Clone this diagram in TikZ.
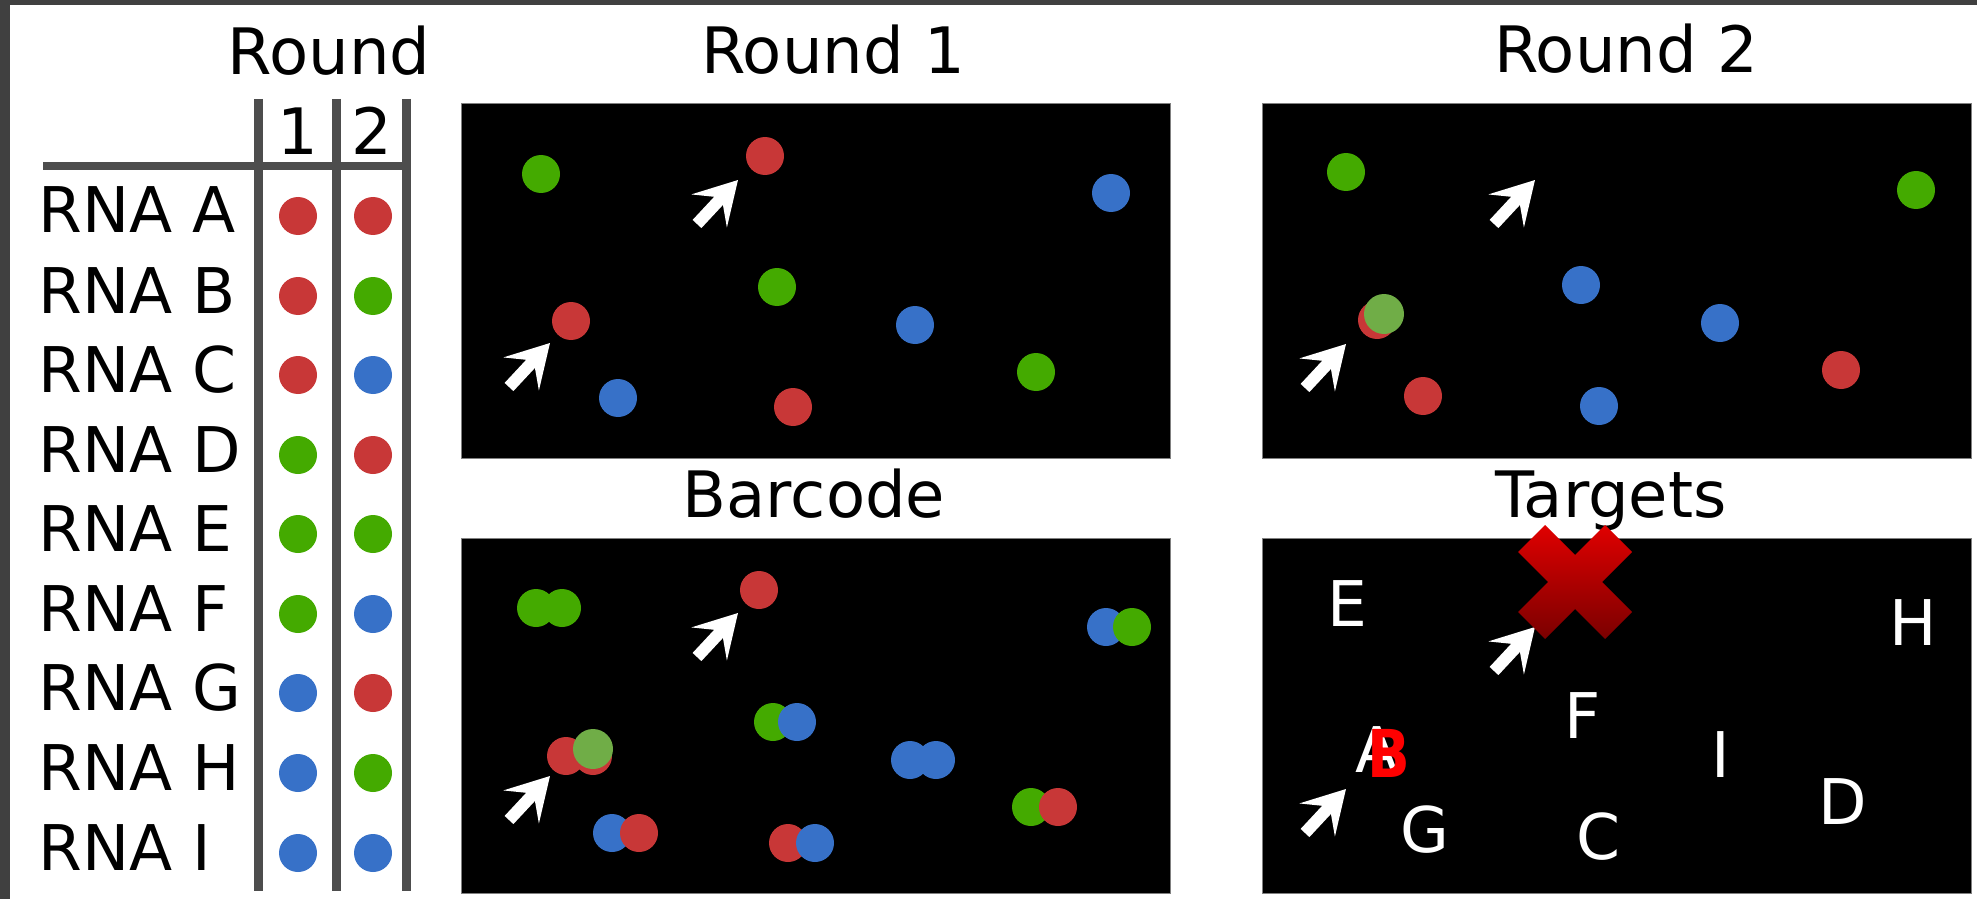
\documentclass[tikz,border=0pt]{standalone}
\usepackage{fontspec}
\usepackage{graphicx}
\setmainfont{DejaVu Sans}
\usetikzlibrary{arrows.meta}
\definecolor{cred}{HTML}{C83737}
\definecolor{cgreen}{HTML}{44AA00}
\definecolor{cblue}{HTML}{3771C8}
\definecolor{clgreen}{HTML}{70AD47}
\definecolor{tgray}{HTML}{4D4D4D}
\definecolor{cframe}{HTML}{404040}
\definecolor{xtop}{HTML}{E00000}
\definecolor{xbot}{HTML}{7A0000}
\definecolor{bred}{HTML}{FF0000}
\begin{document}
\begin{tikzpicture}[x=0.5pt,y=-0.5pt,
  spot/.style={circle,inner sep=0pt,minimum size=19pt,draw=none},
  bigspot/.style={circle,inner sep=0pt,minimum size=20pt,draw=none,fill=clgreen},
  title/.style={inner sep=0pt,anchor=base,font=\fontsize{32pt}{38pt}\selectfont},
  lbl/.style={inner sep=0pt,anchor=base west,font=\fontsize{31.5pt}{38pt}\selectfont},
  letter/.style={inner sep=0pt,anchor=base,text=white,font=\fontsize{31.5pt}{38pt}\selectfont},
  tline/.style={draw=tgray,line width=4.5pt},
  pointer/.style={draw=white,line width=6pt,-{Stealth[length=21pt,width=24pt,inset=9pt]}},
  panel/.style={fill=black,draw=gray,line width=0.5pt}]
\fill[cframe] (0,0) rectangle (1977,899);
\fill[white] (10,5) rectangle (1977,899);
\useasboundingbox (0,0) rectangle (1977,899);

% ---------- table ----------
\node[title] (thead) at (329,75) {Round};
\node[title] (th1) at (298,155) {1};
\node[title] (th2) at (372,155) {2};
\draw[tline, line width=4pt] (43,166) -- (410,166);
\draw[tline] (258.5,99) -- (258.5,891);
\draw[tline] (336,99) -- (336,891);
\draw[tline] (406,99) -- (406,891);

\foreach \n/\y/\a/\b in {A/216/cred/cred, B/296/cred/cgreen, C/375/cred/cblue,
  D/455/cgreen/cred, E/534/cgreen/cgreen, F/614/cgreen/cblue,
  G/693/cblue/cred, H/773/cblue/cgreen, I/853/cblue/cblue}{
  \node[lbl] (rna\n) at (38,\y+17) {RNA \n};
  \node[spot,fill=\a] (t1\n) at (298,\y) {};
  \node[spot,fill=\b] (t2\n) at (373,\y) {};
}

% ---------- Round 1 ----------
\node[title] (tr1) at (833,74) {Round 1};
\draw[panel] (461,104) rectangle (1170,458);
\node[spot,fill=cgreen] (r1a) at (541,174) {};
\node[spot,fill=cred]   (r1b) at (765,156) {};
\node[spot,fill=cblue]  (r1c) at (1111,193) {};
\node[spot,fill=cgreen] (r1d) at (777,287) {};
\node[spot,fill=cred]   (r1e) at (571,321) {};
\node[spot,fill=cblue]  (r1f) at (915,325) {};
\node[spot,fill=cgreen] (r1g) at (1036,372) {};
\node[spot,fill=cblue]  (r1h) at (618,398) {};
\node[spot,fill=cred]   (r1i) at (793,407) {};
\coordinate (p1s) at (697,224); \coordinate (p1e) at (738,180);
\coordinate (p2s) at (509,387); \coordinate (p2e) at (550,343);
\draw[pointer] (p1s) -- (p1e);
\draw[pointer] (p2s) -- (p2e);

% ---------- Round 2 ----------
\node[title] (tr2) at (1626,73) {Round 2};
\draw[panel] (1262,104) rectangle (1971,458);
\node[spot,fill=cgreen] (r2a) at (1346,172) {};
\node[spot,fill=cgreen] (r2b) at (1916,190) {};
\node[spot,fill=cblue]  (r2c) at (1581,285) {};
\node[spot,fill=cblue]  (r2d) at (1720,323) {};
\node[spot,fill=cred]   (r2e) at (1377,320) {};
\node[bigspot]          (r2f) at (1384,314) {};
\node[spot,fill=cred]   (r2g) at (1423,396) {};
\node[spot,fill=cblue]  (r2h) at (1599,406) {};
\node[spot,fill=cred]   (r2i) at (1841,370) {};
\coordinate (p3s) at (1494,224); \coordinate (p3e) at (1535,180);
\coordinate (p4s) at (1305,388); \coordinate (p4e) at (1346,344);
\draw[pointer] (p3s) -- (p3e);
\draw[pointer] (p4s) -- (p4e);

% ---------- Barcode ----------
\node[title] (tbc) at (814,517) {Barcode};
\draw[panel] (461,538) rectangle (1170,893);
\node[spot,fill=cgreen] (b1) at (536,608) {};
\node[spot,fill=cgreen] (b2) at (562,608) {};
\node[spot,fill=cred]   (b3) at (759,590) {};
\node[spot,fill=cblue]  (b4) at (1106,627) {};
\node[spot,fill=cgreen] (b5) at (1132,627) {};
\node[spot,fill=cgreen] (b6) at (773,722) {};
\node[spot,fill=cblue]  (b7) at (797,722) {};
\node[spot,fill=cred]   (b8) at (566,756) {};
\node[spot,fill=cred]   (b9) at (593,756) {};
\node[bigspot]          (b10) at (593,749) {};
\node[spot,fill=cblue]  (b11) at (910,760) {};
\node[spot,fill=cblue]  (b12) at (936,760) {};
\node[spot,fill=cgreen] (b13) at (1031,807) {};
\node[spot,fill=cred]   (b14) at (1058,807) {};
\node[spot,fill=cblue]  (b15) at (612,833) {};
\node[spot,fill=cred]   (b16) at (639,833) {};
\node[spot,fill=cred]   (b17) at (788,843) {};
\node[spot,fill=cblue]  (b18) at (815,843) {};
\coordinate (p5s) at (697,657); \coordinate (p5e) at (738,613);
\coordinate (p6s) at (509,820); \coordinate (p6e) at (550,776);
\draw[pointer] (p5s) -- (p5e);
\draw[pointer] (p6s) -- (p6e);

% ---------- Targets ----------
\node[title] (ttg) at (1611,517) {Targets};
\draw[panel] (1262,538) rectangle (1971,893);
\node[letter] (lE) at (1347,626) {E};
\node[letter] (lH) at (1913,645) {H};
\node[letter] (lF) at (1583,738) {F};
\node[letter] (lA) at (1377,772) {A};
\node[inner sep=0pt,anchor=base,text=bred,font=\fontsize{33pt}{38pt}\selectfont\bfseries] (lB) at (1389,777) {\scalebox{0.85}[1]{B}};
\node[letter] (lI) at (1721,777) {I};
\node[letter] (lD) at (1843,824) {D};
\node[letter] (lG) at (1425,852) {G};
\node[letter] (lC) at (1598,859) {C};
\coordinate (p7s) at (1494,671); \coordinate (p7e) at (1535,627);
\coordinate (p8s) at (1305,833); \coordinate (p8e) at (1346,789);
\draw[pointer] (p7s) -- (p7e);
\draw[pointer] (p8s) -- (p8e);
\shade[top color=xtop,bottom color=xbot]
  (1545,525) -- (1575,555) -- (1605,525) -- (1632,552) -- (1602,582) -- (1632,612)
  -- (1605,639) -- (1575,609) -- (1545,639) -- (1518,612) -- (1548,582) -- (1518,552) -- cycle;
\end{tikzpicture}
\end{document}
